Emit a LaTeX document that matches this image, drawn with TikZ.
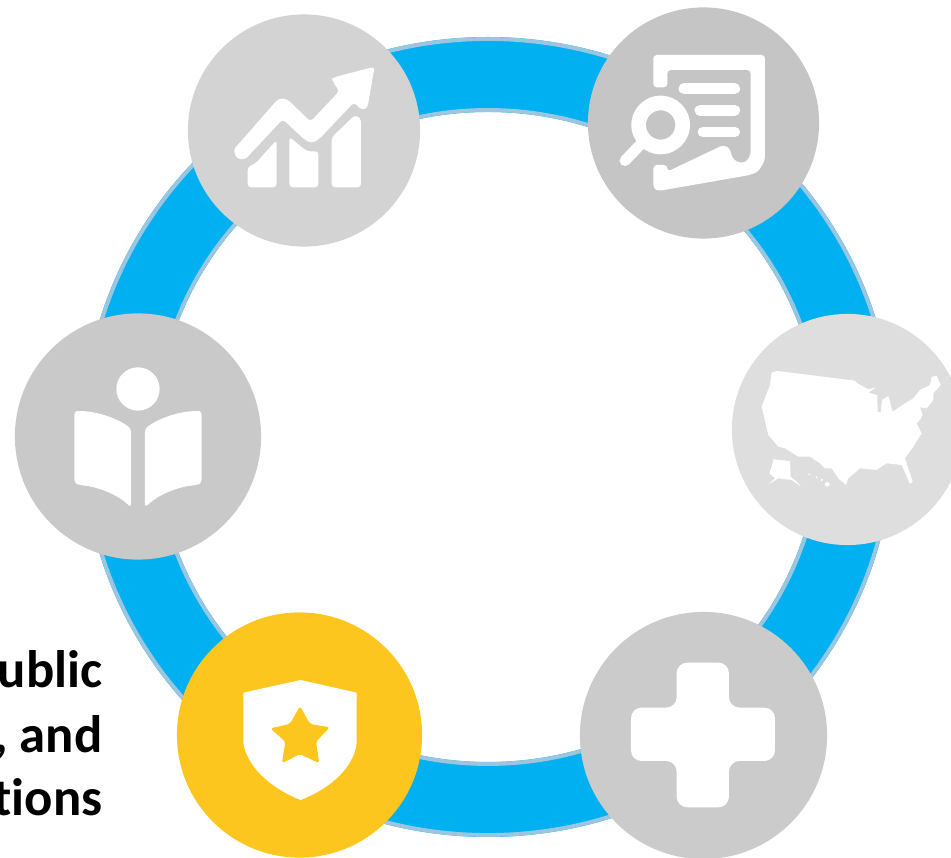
\documentclass[tikz,border=0pt]{standalone}
\usepackage{fontspec}
\setmainfont[Ligatures=NoCommon]{Carlito}
\usepackage{tikz}
\usetikzlibrary{positioning}
\definecolor{ringblue}{HTML}{00B0F0}
\definecolor{ringedge}{HTML}{9CC6DF}
\definecolor{badgeyellow}{HTML}{FDC61E}
\tikzset{
  badge/.style={circle,inner sep=0pt,minimum size=#1*0.02cm},
  caption/.style={anchor=base east,inner sep=0pt,font=\fontsize{15}{18}\selectfont\bfseries},
  icon/.style={fill=white,draw=none,rounded corners=1pt},
  docline/.style={draw=white,line width=3.1pt,line cap=round}
}
\begin{document}
\begin{tikzpicture}[x=0.01cm,y=-0.01cm]
    \useasboundingbox (0,0) rectangle (951,858);
    %the ring
    \fill [ringblue,even odd rule] (488,437) ellipse (406 and 400) (488,437) ellipse (331 and 325);
    \draw [ringedge,line width=1.1pt] (488,437) ellipse (404 and 398);
    \draw [ringedge,line width=1.1pt] (488,437) ellipse (333 and 327);
%the circles
    \node [badge=116,fill={rgb,255:red,211;green,211;blue,211}] (chart) at (304,130.5) {};
    \node [badge=115.5,fill={rgb,255:red,197;green,197;blue,197}] (report) at (703.5,123) {};
    \node [badge=115.5,fill={rgb,255:red,222;green,222;blue,222}] (usa) at (847.5,429.5) {};
    \node [badge=123,fill={rgb,255:red,201;green,201;blue,201}] (book) at (138,436.5) {};
    \node [badge=122.5,fill=badgeyellow] (shield) at (299.5,735) {};
    \node [badge=123.5,fill={rgb,255:red,203;green,203;blue,203}] (health) at (703.5,735.5) {};
%the text
    \node [caption] (line1) at (103,688) {ublic};
    \node [caption] (line2) at (103,752) {, and};
    \node [caption] (line3) at (103,815) {tions};
%the chart icon
    \begin{scope}[shift={(180,10)},scale=0.3333]
       \fill [icon] (160,420) -- (295,266) -- (320,266) -- (392,335) -- (478,243) -- (456,212) -- (458,203)
          -- (584,170) -- (562,295) -- (545,300) -- (522,277) -- (420,385) -- (395,400) -- (375,390)
          -- (308,328) -- (195,449) -- (170,446) -- cycle;
       \fill [icon] (203,470) -- (225,462) -- (290,390) -- (290,532) -- (203,532) -- cycle;
       \fill [icon] (328,380) -- (375,420) -- (395,426) -- (415,422) -- (415,532) -- (328,532) -- cycle;
       \fill [icon] (455,382) -- (525,315) -- (543,325) -- (543,532) -- (455,532) -- cycle;
    \end{scope}
%the report icon
    \begin{scope}[shift={(580,0)},scale=0.3333]
       \fill [icon] (220,165) -- (555,165) -- (555,480) -- (535,515) -- (510,525) -- (235,573) -- (220,565)
          -- (220,495) -- (262,495) -- (262,515) -- (430,435) -- (450,445) -- (455,470) -- (470,487)
          -- (498,487) -- (512,465) -- (512,210) -- (262,210) -- (262,262) -- (220,262) -- cycle;
       \draw [docline] (312,266) -- (464,266);
       \draw [docline] (360,331) -- (464,331);
       \draw [docline] (369,396) -- (464,396);
       \draw [docline] (180,435) -- (135,482);
       \fill [white,even odd rule] (242,375) circle (88) (242,375) circle (44);
    \end{scope}
%the map
    \begin{scope}[shift={(720,300)},scale=0.3333]
       \fill [white] (155,218) -- (172,213) -- (405,242) -- (412,250) -- (445,268) -- (468,262) -- (445,278)
          -- (472,285) -- (473,335) -- (482,338) -- (486,300) -- (505,288) -- (518,335) -- (555,310) -- (580,295)
          -- (600,270) -- (630,255) -- (635,230) -- (650,228) -- (662,255) -- (640,280) -- (640,300) -- (620,325)
          -- (600,322) -- (608,345) -- (600,360) -- (590,370) -- (605,400) -- (580,440) -- (555,475) -- (578,545)
          -- (570,552) -- (545,495) -- (500,490) -- (470,510) -- (420,505) -- (385,535) -- (378,555) -- (355,535)
          -- (335,505) -- (315,505) -- (300,490) -- (270,470) -- (235,470) -- (195,445) -- (175,440) -- (145,405)
          -- (125,320) -- (150,255) -- cycle;
       \fill [white] (160,478) -- (210,483) -- (212,530) -- (230,545) -- (243,560) -- (215,540) -- (175,535)
          -- (145,553) -- (165,535) -- (148,520) -- (155,500) -- cycle;
       \fill [white] (268,523) circle (3) (290,532) circle (3) (305,540) circle (4) (322,553) circle (7);
    \end{scope}
%the book
    \begin{scope}[shift={(10,310)},scale=0.3333]
       \fill [white] (384,237) circle (65);
       \fill [icon] (193,303) -- (205,303) .. controls (265,305) and (320,325) .. (363,355) -- (363,593)
          .. controls (325,555) and (265,530) .. (205,525) -- (193,518) -- cycle;
       \fill [icon] (575,303) -- (563,303) .. controls (503,305) and (448,325) .. (405,355) -- (405,593)
          .. controls (443,555) and (503,530) .. (563,525) -- (575,518) -- cycle;
    \end{scope}
%the shield
    \begin{scope}[shift={(0,600)},scale=0.3333]
       \fill [white] (730,278) -- (902,240) -- (1070,278) -- (1070,430) .. controls (1060,510) and (980,570) .. (902,600)
          .. controls (825,570) and (745,510) .. (730,430) -- cycle;
       \fill [badgeyellow,rounded corners=0.8pt] (900,318) -- (930,372) -- (990,382) -- (948,425) -- (958,490) -- (900,462)
          -- (846,490) -- (856,425) -- (811,385) -- (870,372) -- cycle;
    \end{scope}
%the cross
    \begin{scope}[shift={(570,600)},scale=0.3333]
       \fill [white,rounded corners=3pt] (320,188) -- (477,188) -- (477,323) -- (615,323) -- (615,483) -- (477,483)
          -- (477,622) -- (320,622) -- (320,483) -- (183,483) -- (183,323) -- (320,323) -- cycle;
    \end{scope}
\end{tikzpicture}
\end{document}
